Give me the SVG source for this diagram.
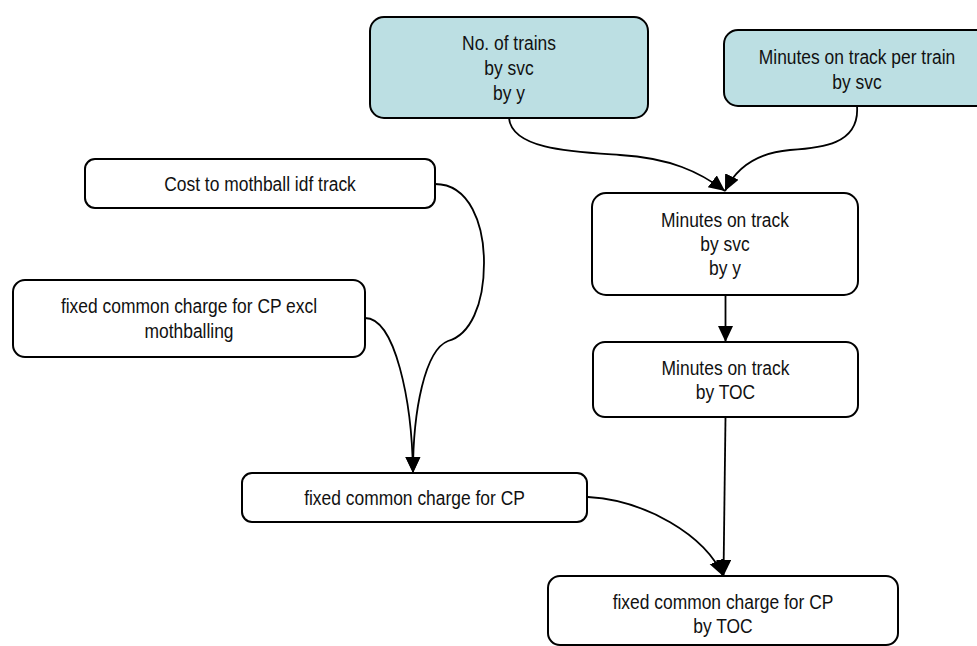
<svg xmlns="http://www.w3.org/2000/svg" width="977" height="646" viewBox="0 0 977 646">
<style>
.box{fill:#ffffff;stroke:#000000;stroke-width:2}
.in{fill:#bcdfe3}
.t{font-family:"Liberation Sans",Arial,sans-serif;font-size:21px;fill:#111111;text-anchor:middle}
.c{fill:none;stroke:#000000;stroke-width:1.8}
</style>
<defs>
<marker id="ah" markerUnits="userSpaceOnUse" markerWidth="17" markerHeight="17" viewBox="0 0 17 17" refX="16" refY="7.5" orient="auto">
<path d="M0,0 L16,7.5 L0,15 Z" fill="#000000"/>
</marker>
</defs>
<rect width="977" height="646" fill="#ffffff"/>
<g id="connectors">
<path class="c" d="M509,118 C512,150 575,152 620,155 C670,158 700,172 725,191" marker-end="url(#ah)"/>
<path class="c" d="M857,106 C860,145 820,148 790,150 C755,153 735,170 725,191" marker-end="url(#ah)"/>
<path class="c" d="M725.5,295 L725.5,342" marker-end="url(#ah)"/>
<path class="c" d="M725.5,417 L723.5,576" marker-end="url(#ah)"/>
<path class="c" d="M588,497 C645,500 705,535 723,576" marker-end="url(#ah)"/>
<path class="c" d="M435,184 C470,184 484,225 484,263 C484,305 470,335 448,341 C425,350 413,410 413,473" marker-end="url(#ah)"/>
<path class="c" d="M365,318 C395,318 412,400 413,473" marker-end="url(#ah)"/>
</g>
<g id="n1">
<rect class="box in" x="370" y="17" width="278" height="101" rx="14"/>
<g transform="translate(509,0) scale(0.83,1)"><text class="t" x="0" y="50">No. of trains</text><text class="t" x="0" y="75">by svc</text><text class="t" x="0" y="100">by y</text></g>
</g>
<g id="n2">
<rect class="box in" x="724" y="30" width="266" height="76" rx="14"/>
<g transform="translate(857,0) scale(0.83,1)"><text class="t" x="0" y="64">Minutes on track per train</text><text class="t" x="0" y="89">by svc</text></g>
</g>
<g id="n3">
<rect class="box" x="85" y="159" width="350" height="49" rx="10"/>
<g transform="translate(260,0) scale(0.83,1)"><text class="t" x="0" y="191">Cost to mothball idf track</text></g>
</g>
<g id="n4">
<rect class="box" x="13" y="280" width="352" height="77" rx="12"/>
<g transform="translate(189,0) scale(0.83,1)"><text class="t" x="0" y="313.5">fixed common charge for CP excl</text><text class="t" x="0" y="338">mothballing</text></g>
</g>
<g id="n5">
<rect class="box" x="592" y="193" width="266" height="102" rx="14"/>
<g transform="translate(725,0) scale(0.83,1)"><text class="t" x="0" y="227">Minutes on track</text><text class="t" x="0" y="251">by svc</text><text class="t" x="0" y="275">by y</text></g>
</g>
<g id="n6">
<rect class="box" x="593" y="342" width="265" height="75" rx="12"/>
<g transform="translate(725.5,0) scale(0.83,1)"><text class="t" x="0" y="375">Minutes on track</text><text class="t" x="0" y="399">by TOC</text></g>
</g>
<g id="n7">
<rect class="box" x="242" y="473" width="345" height="49" rx="10"/>
<g transform="translate(414.5,0) scale(0.83,1)"><text class="t" x="0" y="505">fixed common charge for CP</text></g>
</g>
<g id="n8">
<rect class="box" x="548" y="576" width="350" height="69" rx="12"/>
<g transform="translate(723,0) scale(0.83,1)"><text class="t" x="0" y="609">fixed common charge for CP</text><text class="t" x="0" y="633">by TOC</text></g>
</g>
</svg>
